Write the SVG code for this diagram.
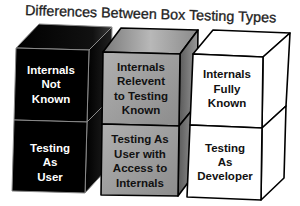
<svg xmlns="http://www.w3.org/2000/svg" width="300" height="206" viewBox="0 0 300 206">
  <defs>
    <linearGradient id="gFront" x1="0" y1="0" x2="1" y2="1">
      <stop offset="0" stop-color="#b0b0b0"/>
      <stop offset="1" stop-color="#8c8c8c"/>
    </linearGradient>
    <linearGradient id="gSide" x1="0" y1="0" x2="1" y2="0">
      <stop offset="0" stop-color="#5a5a5a"/>
      <stop offset="1" stop-color="#9a9a9a"/>
    </linearGradient>
    <linearGradient id="gTop" x1="0" y1="0" x2="1" y2="0">
      <stop offset="0" stop-color="#7a7a7a"/>
      <stop offset="0.5" stop-color="#b8b8b8"/>
      <stop offset="1" stop-color="#8a8a8a"/>
    </linearGradient>
    <linearGradient id="bTop" x1="0" y1="0" x2="1" y2="0">
      <stop offset="0" stop-color="#000"/>
      <stop offset="0.8" stop-color="#111"/>
      <stop offset="1" stop-color="#3a3a3a"/>
    </linearGradient>
    <linearGradient id="bSide" x1="0" y1="0" x2="1" y2="0">
      <stop offset="0" stop-color="#000"/>
      <stop offset="1" stop-color="#222"/>
    </linearGradient>
  </defs>
  <style>
    .blk { stroke: #8a8a8a; stroke-width: 1; stroke-linejoin: round; }
    .gry { stroke: #000; stroke-width: 1.6; stroke-linejoin: round; }
    .wht { fill: #fff; stroke: #000; stroke-width: 1.6; stroke-linejoin: round; }
    .t { font-family: "Liberation Sans", Arial, sans-serif; font-weight: bold; font-size: 11.5px; text-anchor: middle; }
    .tw { fill: #fff; }
    .tb { fill: #111; }
    .title { font-family: "Liberation Sans", Arial, sans-serif; font-size: 14.3px; fill: #222; stroke: #222; stroke-width: 0.3; }
  </style>

  <text class="title" x="25" y="15" transform="rotate(1.7 25 15)">Differences Between Box Testing Types</text>

  <!-- Black column -->
  <g id="black-top">
    <polygon class="blk" fill="url(#bTop)" points="16,48 39,24 112,27 89,50"/>
    <polygon class="blk" fill="url(#bSide)" points="89,50 112,27 111,98 87,122"/>
    <polygon class="blk" fill="#000" points="16,48 89,50 87,122 14,120"/>
    <text class="t tw" x="51" y="74">Internals</text>
    <text class="t tw" x="51" y="88">Not</text>
    <text class="t tw" x="51" y="103">Known</text>
  </g>
  <g id="black-bottom">
    <polygon class="blk" fill="url(#bSide)" points="87,122 111,98 108,168 85,193"/>
    <polygon class="blk" fill="#000" points="14,120 87,122 85,193 12,191"/>
    <text class="t tw" x="50" y="152">Testing</text>
    <text class="t tw" x="50" y="166">As</text>
    <text class="t tw" x="50" y="181">User</text>
  </g>

  <!-- Gray column -->
  <g id="gray-top">
    <polygon class="gry" fill="url(#gTop)" points="103,52 121,28 198,30 180,54"/>
    <polygon class="gry" fill="url(#gSide)" points="180,54 198,30 197,104 179,126"/>
    <polygon class="gry" fill="url(#gFront)" points="103,52 180,54 179,126 102,124"/>
    <text class="t tb" x="141" y="71">Internals</text>
    <text class="t tb" x="141" y="85">Relevent</text>
    <text class="t tb" x="141" y="100">to Testing</text>
    <text class="t tb" x="141" y="114">Known</text>
  </g>
  <g id="gray-bottom">
    <polygon class="gry" fill="url(#gSide)" points="179,126 197,104 196,172 178,196"/>
    <polygon class="gry" fill="url(#gFront)" points="102,124 179,126 178,196 101,195"/>
    <text class="t tb" x="140" y="143">Testing As</text>
    <text class="t tb" x="140" y="158">User with</text>
    <text class="t tb" x="140" y="172">Access to</text>
    <text class="t tb" x="140" y="187">Internals</text>
  </g>

  <!-- White column -->
  <g id="white-top">
    <polygon class="wht" points="193,54 213,30 290,33 263,57"/>
    <polygon class="wht" points="263,57 290,33 286,106 262,128"/>
    <polygon class="wht" points="193,54 263,57 262,128 190,125"/>
    <text class="t tb" x="227" y="78">Internals</text>
    <text class="t tb" x="227" y="93">Fully</text>
    <text class="t tb" x="227" y="107">Known</text>
  </g>
  <g id="white-bottom">
    <polygon class="wht" points="262,128 286,106 284,178 261,200"/>
    <polygon class="wht" points="190,125 262,128 261,200 187,197"/>
    <text class="t tb" x="225" y="152">Testing</text>
    <text class="t tb" x="225" y="166">As</text>
    <text class="t tb" x="225" y="180">Developer</text>
  </g>

  <g id="connectors"/>
</svg>
